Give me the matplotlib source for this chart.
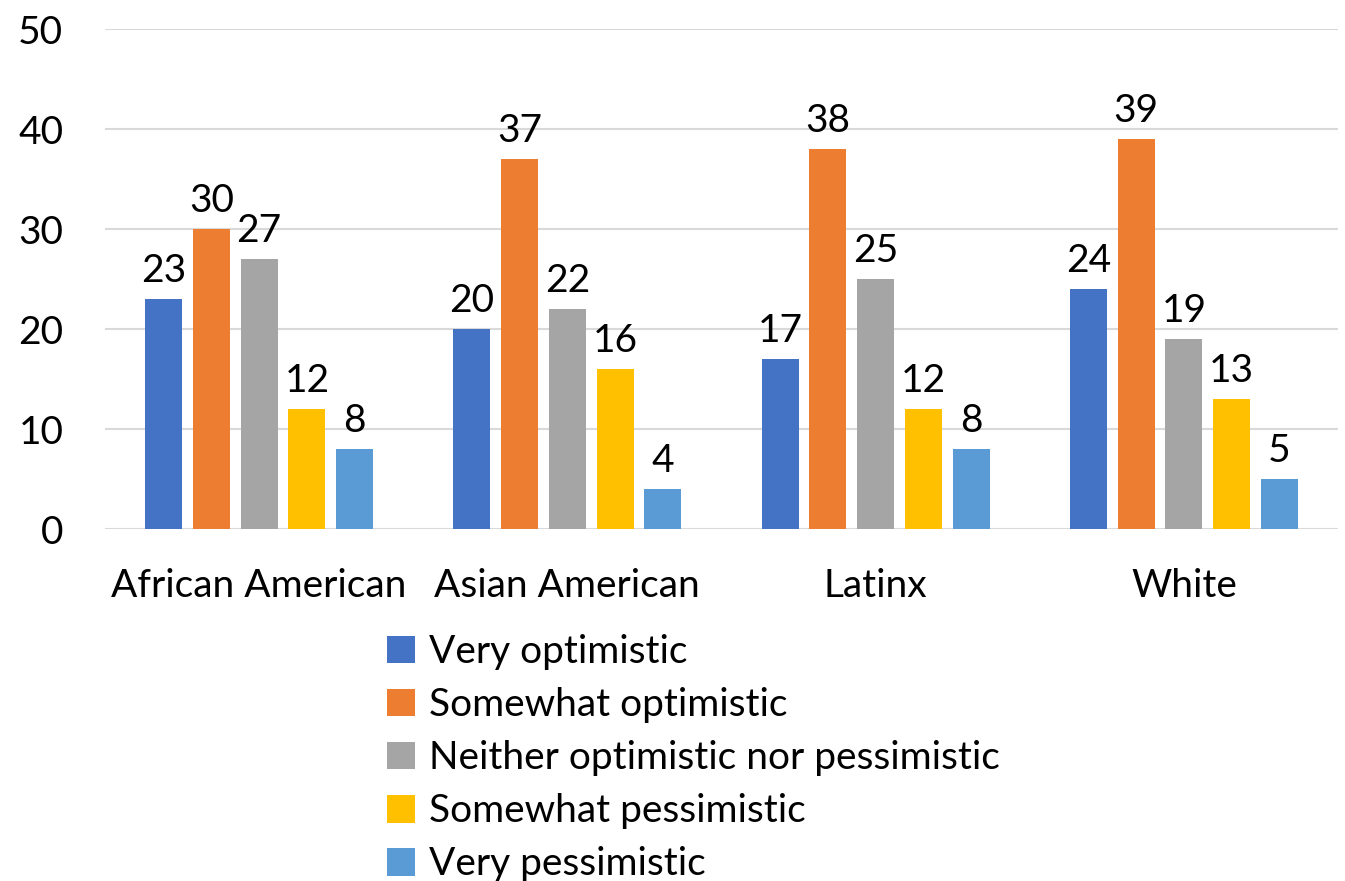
import numpy as np
import matplotlib.pyplot as plt

groups = ['African American', 'Asian American', 'Latinx', 'White']
series = ['Very optimistic', 'Somewhat optimistic',
          'Neither optimistic nor pessimistic', 'Somewhat pessimistic',
          'Very pessimistic']
very_opt = [23, 20, 17, 24]
some_opt = [30, 37, 38, 39]
neither = [27, 22, 25, 19]
some_pes = [12, 16, 12, 13]
very_pes = [8, 4, 8, 5]
colors = ['#4472C4', '#ED7D31', '#A5A5A5', '#FFC000', '#5B9BD5']

plt.rcParams['font.family'] = ['Lato', 'DejaVu Sans']
fs = 28

fig = plt.figure(figsize=(13.45, 8.81), dpi=100)
ax = fig.add_axes([105 / 1345, 1 - 529 / 881, 1233 / 1345, 500 / 881])

x = np.arange(len(groups))
step = 0.155
width = 0.12
data = [very_opt, some_opt, neither, some_pes, very_pes]
for i, (vals, name, c) in enumerate(zip(data, series, colors)):
    pos = x + (i - 2) * step
    bars = ax.bar(pos, vals, width, color=c, label=name, zorder=3)
    for b, v in zip(bars, vals):
        ax.text(b.get_x() + b.get_width() / 2, v + 1.0, str(v),
                ha='center', va='bottom', fontsize=fs, color='black')

ax.set_xlim(-0.5, 3.5)
ax.set_ylim(0, 50)
ax.set_yticks(range(0, 51, 10))
ax.set_xticks(x)
ax.set_xticklabels(groups)
ax.tick_params(axis='both', length=0, labelsize=fs, colors='black')
ax.tick_params(axis='x', pad=28)
ax.tick_params(axis='y', pad=30)
ax.yaxis.grid(True, color='#D9D9D9', linewidth=1.5, zorder=0)
for s in ax.spines.values():
    s.set_visible(False)

fig.legend(loc='upper left', bbox_to_anchor=(387 / 1345, 1 - 634 / 881),
           frameon=False, fontsize=fs, handlelength=0.72, handleheight=0.72,
           handletextpad=0.35, labelspacing=0.44, borderpad=0,
           borderaxespad=0)

fig.savefig('out.png', dpi=100)
